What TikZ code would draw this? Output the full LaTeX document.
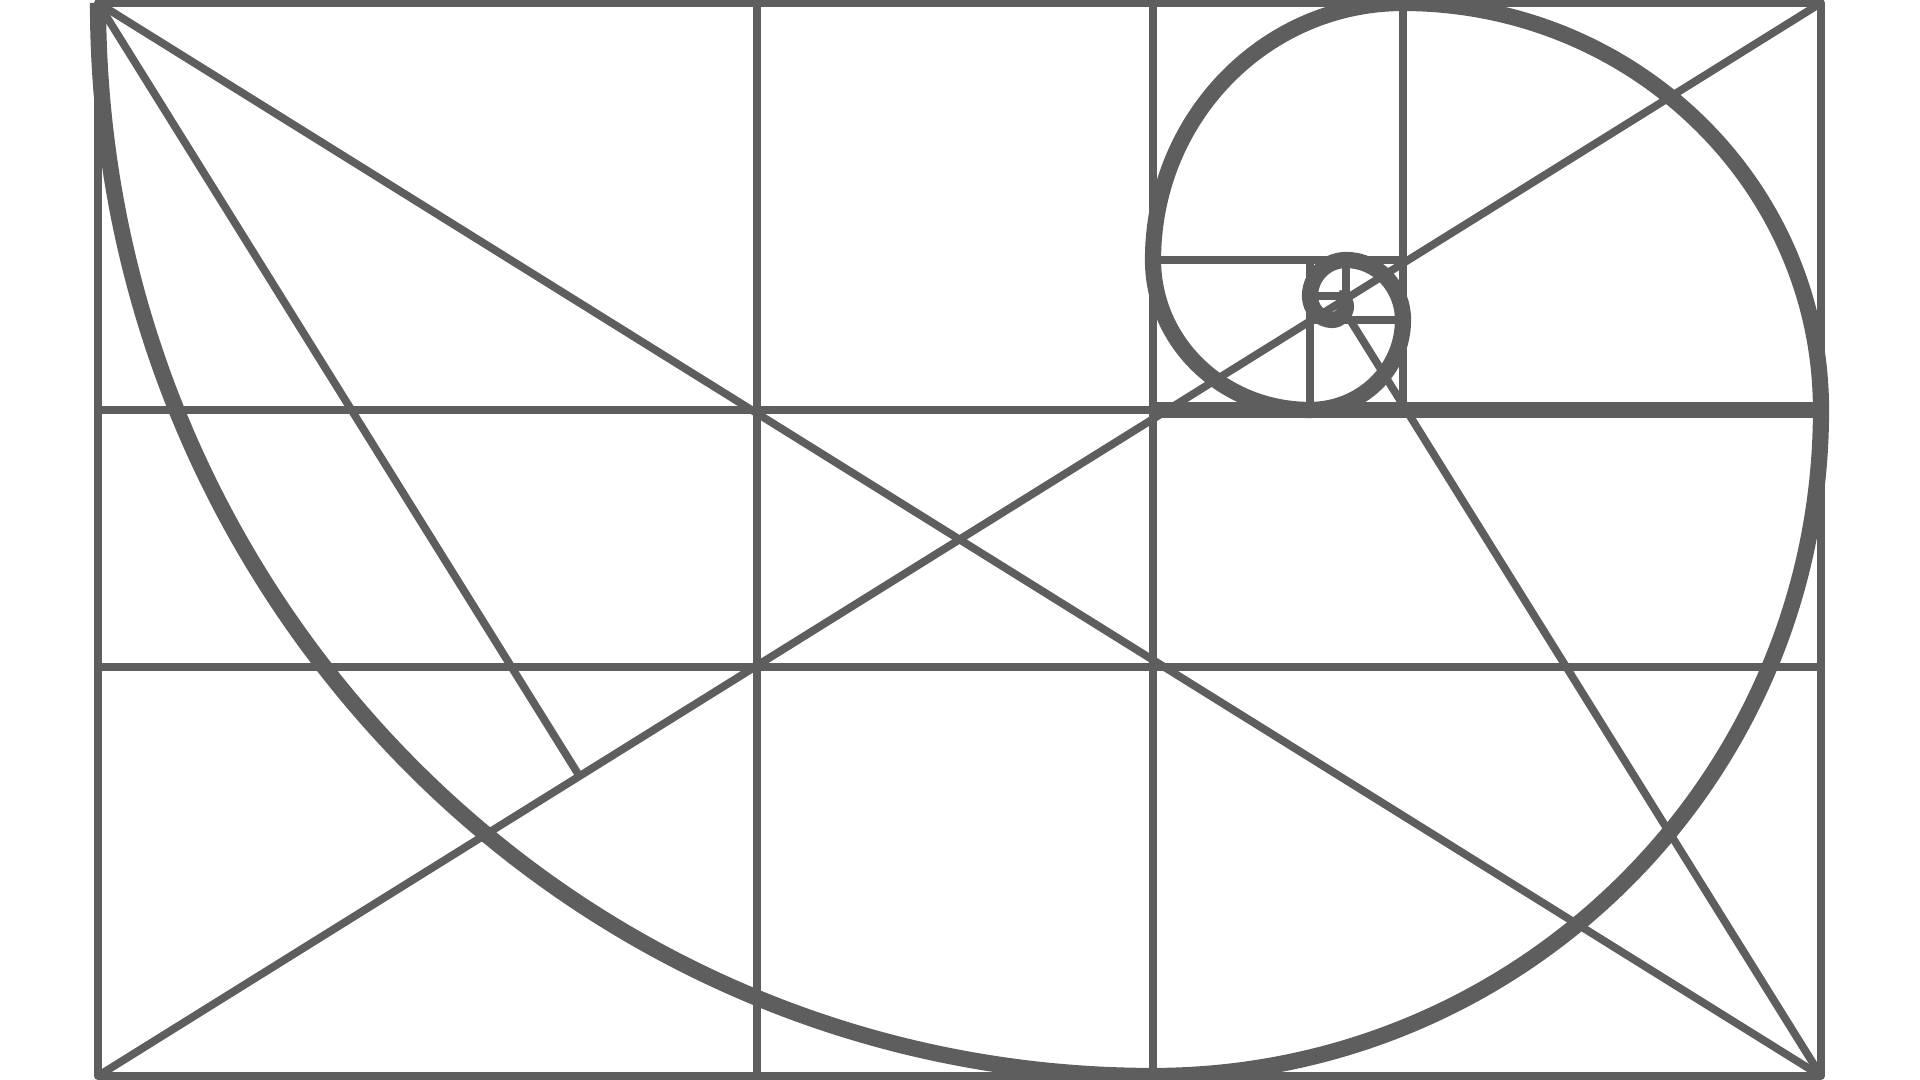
\documentclass[tikz,border=0pt]{standalone}
\usetikzlibrary{calc}
\definecolor{linegray}{RGB}{94,94,94}

\begin{document}
\begin{tikzpicture}[x=0.01cm, y=0.01cm, line join=round,
        gridline/.style={draw=linegray, line width=2.2pt},
        spiralline/.style={draw=linegray, line width=4.6pt}]
            \useasboundingbox (0,0) rectangle (1920,1080);
            \coordinate (v1) at (98,4);
            \coordinate (v2) at (1821,4);
            \coordinate (v3) at (1821,1077);
            \coordinate (v4) at (98,1077);
            \coordinate (f1) at ($(v1)!(v4)!(v3)$);
            \coordinate (f2) at ($(v1)!(v2)!(v3)$);

            \draw[gridline] (v1) rectangle (v3);
            \draw[gridline] (757,4) -- (757,1077);
            \draw[gridline] (1153,4) -- (1153,1077);
            \draw[gridline] (98,413) -- (1821,413);
            \draw[gridline] (98,670) -- (1153,670);
            \draw[spiralline] (1153,670) -- (1821,670);
            \draw[gridline] (1403,670) -- (1403,1077);
            \draw[gridline] (1153,820) -- (1403,820);
            \draw[gridline] (1310,670) -- (1310,820);
            \draw[gridline] (1310,760) -- (1403,760);
            \draw[gridline] (1346,760) -- (1346,820);
            \draw[gridline] (1310,784) -- (1346,784);

            \draw[gridline] (v4) -- (v2);
            \draw[gridline] (v1) -- (v3);
            \draw[gridline] (v4) -- (f1);
            \draw[gridline] (v2) -- (f2);

            % spiral
            \draw[spiralline] (v4)
                arc[start angle=180, end angle=270, x radius=1055, y radius=1073]
                arc[start angle=270, end angle=360, x radius=668, y radius=666]
                arc[start angle=0, end angle=90, x radius=418, y radius=407]
                arc[start angle=90, end angle=180, x radius=250, y radius=257]
                arc[start angle=180, end angle=270, x radius=157, y radius=150]
                arc[start angle=270, end angle=360, x radius=93, y radius=90]
                arc[start angle=0, end angle=90, x radius=57, y radius=60]
                arc[start angle=90, end angle=180, x radius=36, y radius=36]
                arc[start angle=180, end angle=270, x radius=22, y radius=24]
                arc[start angle=270, end angle=360, x radius=14, y radius=14]
                arc[start angle=0, end angle=90, x radius=8, y radius=8];
        \end{tikzpicture}
\end{document}
